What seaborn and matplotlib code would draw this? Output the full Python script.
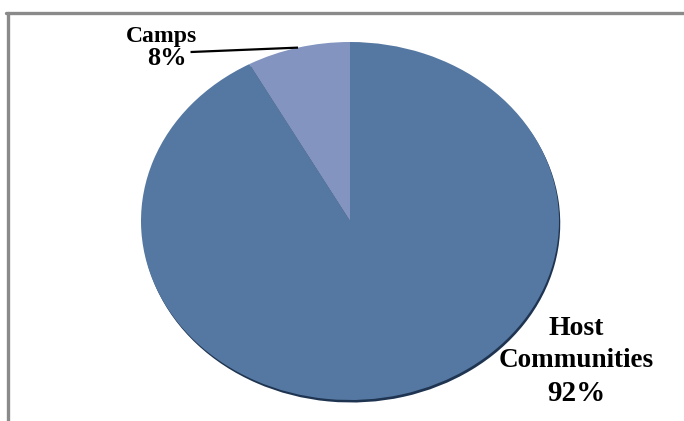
import numpy as np
import matplotlib
matplotlib.use("Agg")
import matplotlib.pyplot as plt
from matplotlib.lines import Line2D
import seaborn as sns

# Share of displaced people by settlement type
categories = ["Camps", "Host Communities"]
shares = [8, 92]
slice_colors = ["#8294bf", "#5578a2"]

sns.set_theme(style="white")
plt.rcParams["font.family"] = ["Liberation Serif", "DejaVu Serif"]

W, H = 684, 421
fig = plt.figure(figsize=(W / 100, H / 100), dpi=100)
fig.patch.set_facecolor("white")

# Pie area: an ellipse spanning most of the frame
ax = fig.add_axes([141 / W, 1 - 400 / H, 418 / W, 358 / H])

# Soft dark rim under the pie
ax.pie(shares, startangle=90, counterclock=True, colors=["#1e3450"] * 2,
       center=(0.006, -0.014), radius=1.0,
       wedgeprops=dict(linewidth=0))
wedges, _ = ax.pie(shares, startangle=90, counterclock=True,
                   colors=slice_colors, radius=1.0,
                   wedgeprops=dict(linewidth=0))
ax.set_aspect("auto")
ax.set_xlim(-1, 1)
ax.set_ylim(-1, 1)
ax.axis("off")

label_style = dict(fontweight="bold", color="black", clip_on=False,
                   ha="center", va="baseline")

# Camps label with a leader line to its wedge
w = wedges[0]
mid = np.deg2rad((w.theta1 + w.theta2) / 2)
tip = (np.cos(mid), np.sin(mid))
ax.text(-0.902, 1.0, categories[0], fontsize=17, **label_style)
ax.text(-0.878, 0.872, f"{shares[0]}%", fontsize=19, **label_style)
ax.plot([-0.763, tip[0]], [0.944, tip[1]], color="black", lw=1.6,
        solid_capstyle="butt", clip_on=False)

# Host communities label beside the large wedge
host_words = categories[1].split()
ax.text(1.08, -0.637, host_words[0], fontsize=20, **label_style)
ax.text(1.08, -0.816, host_words[1], fontsize=19.5, **label_style)
ax.text(1.083, -1.006, f"{shares[1]}%", fontsize=21, **label_style)

# Grey frame along the top and left edges
frame = "#8a8a8a"
fig.add_artist(Line2D([6 / W, 1], [1 - 13 / H, 1 - 13 / H], color=frame,
                      lw=2.4, transform=fig.transFigure))
fig.add_artist(Line2D([8 / W, 8 / W], [1 - 13 / H, 0], color=frame,
                      lw=2.4, transform=fig.transFigure))

fig.savefig("out.png", dpi=100, facecolor="white")
